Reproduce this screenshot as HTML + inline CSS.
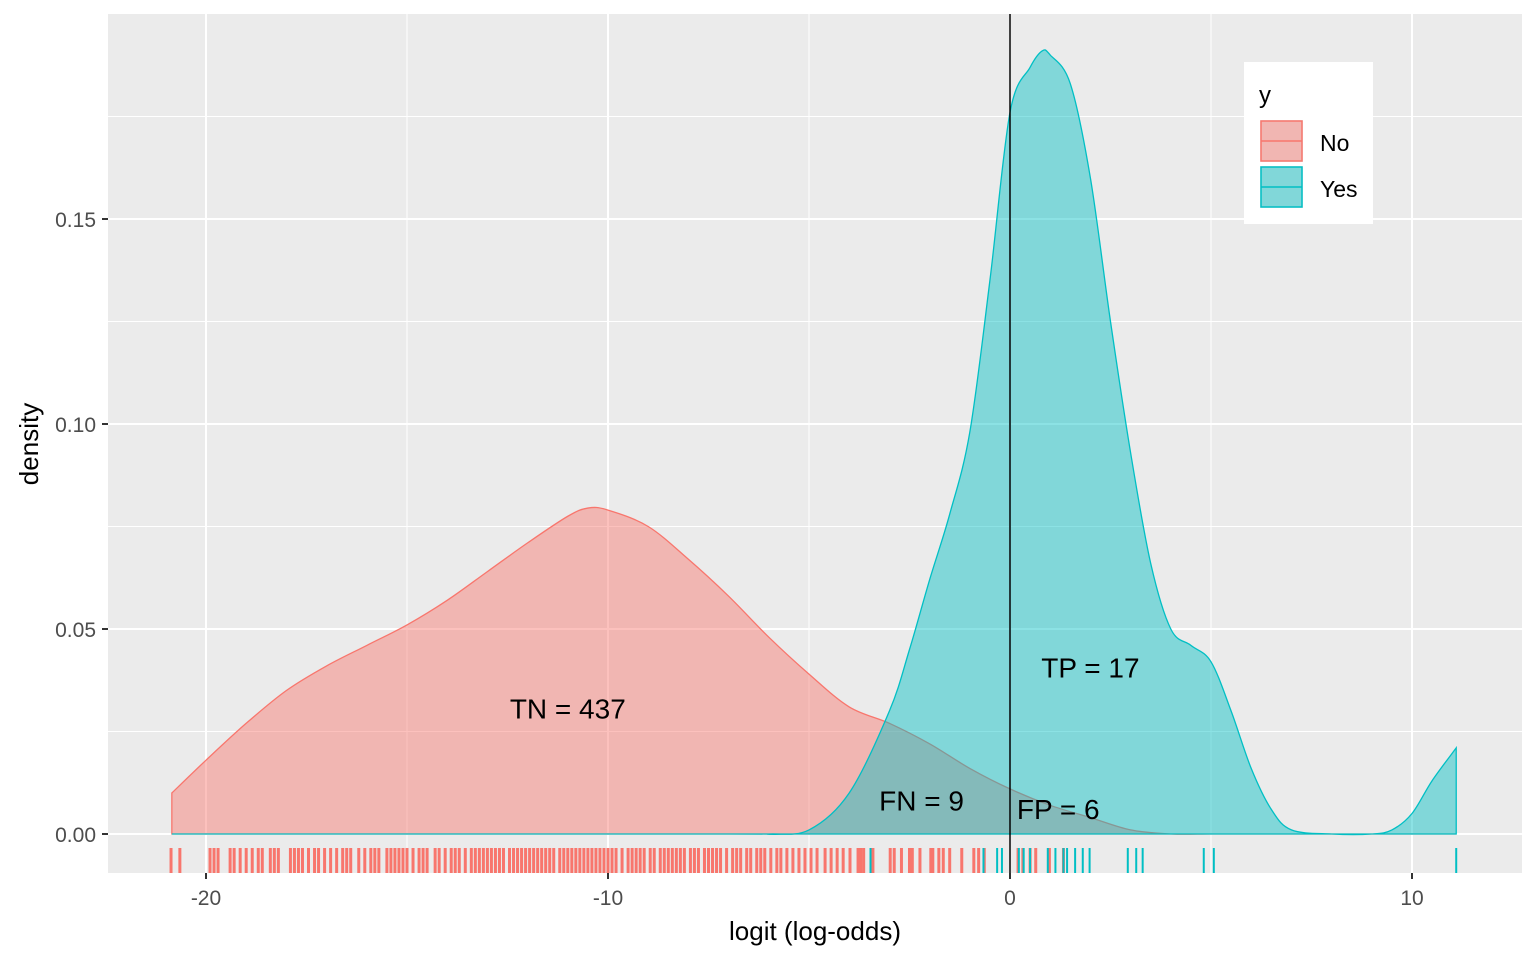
<!DOCTYPE html>
<html><head><meta charset="utf-8"><style>
html,body{margin:0;padding:0;background:#fff}
svg{display:block;font-family:"Liberation Sans",Arial,sans-serif}
</style></head><body>
<svg id="chart" width="1536" height="960" xmlns="http://www.w3.org/2000/svg"></svg>
<script>
const noX=[-20.85,-20,-19,-18,-17,-16,-15,-14,-13,-12,-11,-10.5,-10,-9,-8,-7,-6,-5,-4,-3,-2,-1,0,1,2,3,4,5,6,7,8,9,10,11.1];
const noY=[0.010,0.018,0.027,0.035,0.041,0.046,0.051,0.057,0.064,0.071,0.0775,0.0795,0.079,0.075,0.067,0.058,0.048,0.039,0.031,0.027,0.022,0.016,0.011,0.007,0.004,0.001,0,0,0,0,0,0,0,0];
const yesX=[-20.85,-7,-6,-5,-4,-3,-2.5,-2,-1.5,-1,-0.5,0,0.5,0.8,1,1.5,2,2.5,3,3.5,4,4.5,5,5.5,6,6.5,7,8,9,9.5,10,10.5,11.1];
const yesY=[0,0,0,0.001,0.010,0.030,0.045,0.062,0.078,0.098,0.135,0.176,0.187,0.191,0.190,0.183,0.160,0.125,0.093,0.066,0.050,0.046,0.042,0.030,0.016,0.006,0.001,0,0,0.001,0.005,0.013,0.021];
const yesRug=[-3.47,-0.66,-0.32,-0.2,0.22,0.34,0.5,0.94,1.13,1.33,1.42,1.62,1.81,1.98,2.93,3.14,3.3,4.82,5.07,11.1];
const noRug=[-20.87,-20.65,-19.9,-19.8,-19.7,-19.4,-19.3,-19.15,-19.0,-18.85,-18.7,-18.6,-18.4,-18.3,-18.2,-17.9,-17.8,-17.7,-17.6,-17.45,-17.3,-17.2,-17.05,-16.9,-16.75,-16.6,-16.5,-16.4,-16.2,-16.05,-15.9,-15.8,-15.7,-15.5,-15.4,-15.3,-15.2,-15.1,-15.0,-14.85,-14.7,-14.6,-14.5,-14.3,-14.2,-14.05,-13.9,-13.8,-13.7,-13.55,-13.4,-13.3,-13.2,-13.1,-13.0,-12.9,-12.8,-12.7,-12.6,-12.45,-12.35,-12.25,-12.15,-12.05,-11.95,-11.85,-11.75,-11.65,-11.55,-11.45,-11.35,-11.2,-11.1,-11.0,-10.9,-10.8,-10.7,-10.6,-10.5,-10.4,-10.3,-10.2,-10.1,-10.0,-9.9,-9.8,-9.65,-9.5,-9.4,-9.3,-9.2,-9.1,-8.95,-8.85,-8.7,-8.6,-8.5,-8.4,-8.3,-8.2,-8.1,-7.95,-7.85,-7.75,-7.6,-7.5,-7.4,-7.3,-7.2,-7.05,-6.9,-6.8,-6.7,-6.55,-6.45,-6.3,-6.2,-6.1,-5.95,-5.8,-5.7,-5.55,-5.4,-5.25,-5.1,-4.95,-4.8,-4.6,-4.45,-4.3,-4.15,-3.98,-3.78,-3.71,-3.64,-3.41,-2.98,-2.88,-2.7,-2.5,-2.43,-2.24,-1.97,-1.92,-1.77,-1.66,-1.5,-1.2,-0.9,-0.78,-0.64,0.2,0.32,0.5,0.64,0.98,1.33];
const xTicks=[-20,-10,0,10];
const yTicks=[0,0.05,0.10,0.15];
const yTickLabels=["0.00","0.05","0.10","0.15"];
const labels=[["TN = 437",-11,0.030],["FN = 9",-2.2,0.0075],["TP = 17",2,0.040],["FP = 6",1.2,0.0055]];

const NS="http://www.w3.org/2000/svg";
const svg=document.getElementById('chart');
const L=108,R=1522,T=14,B=873;
const sx=v=>1010+v*40.2;
const sy=v=>834-v*4100;
function el(t,a,p){const e=document.createElementNS(NS,t);for(const k in a)e.setAttribute(k,a[k]);(p||svg).appendChild(e);return e;}
const bg=el('rect',{x:L,y:T,width:R-L,height:B-T,fill:'#EBEBEB'});


const grid=el('g',{});


for(let i=0;i<xTicks.length;i++){
  el('line',{x1:sx(xTicks[i]),x2:sx(xTicks[i]),y1:T,y2:B,stroke:'#fff','stroke-width':2},grid);
  el('line',{x1:sx(xTicks[i]+5),x2:sx(xTicks[i]+5),y1:T,y2:B,stroke:'#fff','stroke-width':1},grid);
}
el('line',{x1:sx(-25),x2:sx(-25),y1:T,y2:B,stroke:'#fff','stroke-width':1},grid);
for(let i=0;i<yTicks.length;i++){
  el('line',{x1:L,x2:R,y1:sy(yTicks[i]),y2:sy(yTicks[i]),stroke:'#fff','stroke-width':2},grid);
  el('line',{x1:L,x2:R,y1:sy(yTicks[i]+0.025),y2:sy(yTicks[i]+0.025),stroke:'#fff','stroke-width':1},grid);
}
function pathFor(xs,ys){
  const pts=xs.map((x,i)=>[sx(x),sy(ys[i])]);
  let d='M'+pts[0][0]+','+pts[0][1];
  for(let i=0;i<pts.length-1;i++){
    const p0=pts[Math.max(0,i-1)],p1=pts[i],p2=pts[i+1],p3=pts[Math.min(pts.length-1,i+2)];
    const c1=[p1[0]+(p2[0]-p0[0])/6,p1[1]+(p2[1]-p0[1])/6];
    const c2=[p2[0]-(p3[0]-p1[0])/6,p2[1]-(p3[1]-p1[1])/6];
    d+=' C'+c1+' '+c2+' '+p2;
  }
  return d;
}
function area(xs,ys,col,name){
  const line=pathFor(xs,ys);
  const a=el('path',{d:line+' L'+sx(xs[xs.length-1])+','+sy(0)+' L'+sx(xs[0])+','+sy(0)+' Z',fill:col,'fill-opacity':0.45,stroke:'none'});
  
  
  const l=el('path',{d:line+' L'+sx(xs[xs.length-1])+','+sy(0)+' L'+sx(xs[0])+','+sy(0)+' Z',fill:'none',stroke:col,'stroke-width':1.3});
  
  
}
area(noX,noY,'#F8766D','no');
area(yesX,yesY,'#00BFC4','yes');
const rug=el('g',{});


noRug.forEach(v=>el('line',{x1:sx(v),x2:sx(v),y1:848,y2:873,stroke:'#F8766D','stroke-width':3},rug));
yesRug.forEach(v=>el('line',{x1:sx(v),x2:sx(v),y1:848,y2:873,stroke:'#00BFC4','stroke-width':2},rug));
const vl=el('line',{x1:sx(0),x2:sx(0),y1:T,y2:B,stroke:'#000','stroke-width':1.5});


labels.forEach(l=>{
  const t=el('text',{x:sx(l[1]),y:sy(l[2]),'font-size':28,'text-anchor':'middle','dominant-baseline':'middle',fill:'#000'});
  t.textContent=l[0];
  
  
});
xTicks.forEach(v=>{
  el('line',{x1:sx(v),x2:sx(v),y1:B,y2:B+6,stroke:'#333','stroke-width':2});
  const t=el('text',{x:sx(v),y:905,'font-size':21,'text-anchor':'middle',fill:'#4D4D4D'});
  t.textContent=v;
  
  
});
yTicks.forEach((v,i)=>{
  el('line',{x1:L-6,x2:L,y1:sy(v),y2:sy(v),stroke:'#333','stroke-width':2});
  const t=el('text',{x:96,y:sy(v)+8,'font-size':21,'text-anchor':'end',fill:'#4D4D4D'});
  t.textContent=yTickLabels[i];
  
  
});
const xt=el('text',{x:815,y:940,'font-size':26,'text-anchor':'middle',fill:'#000'});
xt.textContent='logit (log-odds)';


const yt=el('text',{x:38,y:444,'font-size':26,'text-anchor':'middle',fill:'#000',transform:'rotate(-90 38 444)'});
yt.textContent='density';


const lg=el('g',{});


el('rect',{x:1244,y:62,width:129,height:162,fill:'#fff'},lg);
const lt=el('text',{x:1259,y:103,'font-size':24,fill:'#000'},lg);
lt.textContent='y';
[['No','#F8766D',120],['Yes','#00BFC4',166]].forEach(k=>{
  const g=el('g',{},lg);
  
  
  el('rect',{x:1260,y:k[2],width:43,height:42,fill:'#EBEBEB'},g);
  el('rect',{x:1261,y:k[2]+1,width:41,height:40,fill:k[1],'fill-opacity':0.45,stroke:k[1],'stroke-width':1.5},g);
  el('line',{x1:1261,x2:1302,y1:k[2]+21,y2:k[2]+21,stroke:k[1],'stroke-width':1.5},g);
  const t=el('text',{x:1320,y:k[2]+31,'font-size':23,fill:'#000'},g);
  t.textContent=k[0];
});
</script>
</body></html>
